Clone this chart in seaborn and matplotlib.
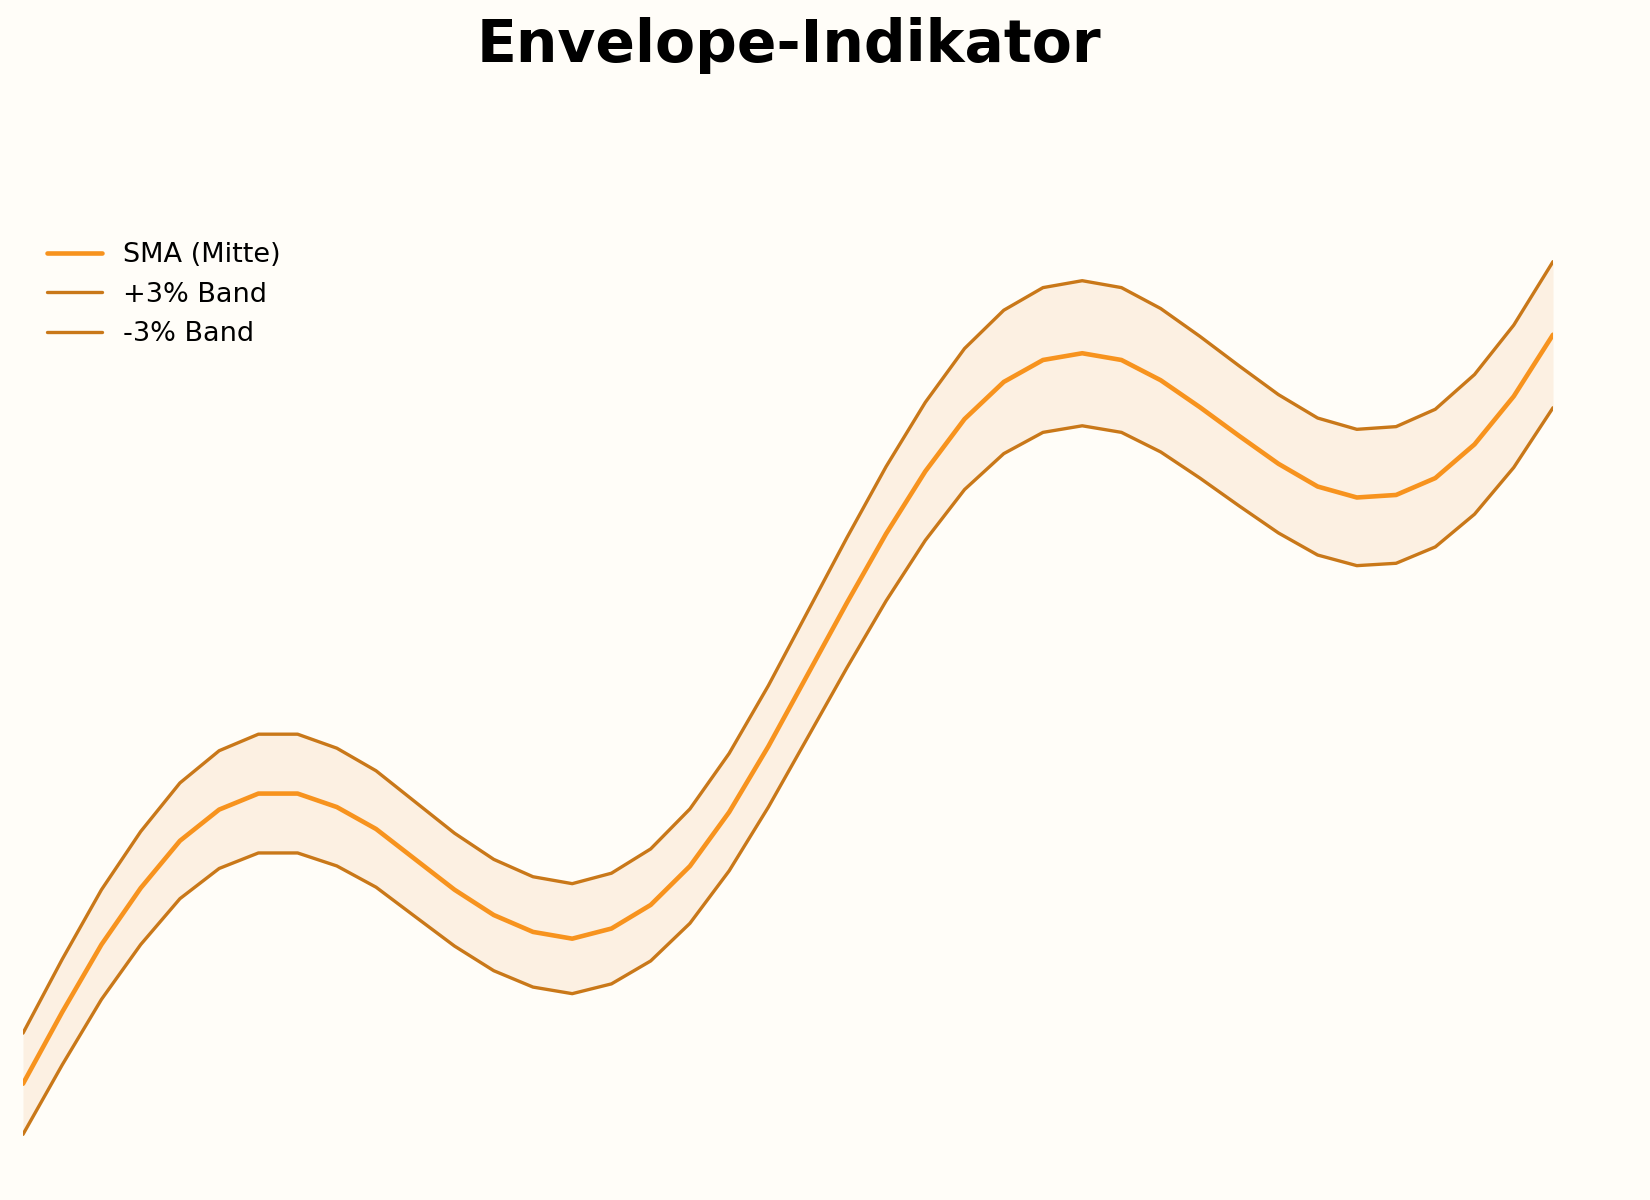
import numpy as np
import pandas as pd
import matplotlib
matplotlib.use("Agg")
import matplotlib.pyplot as plt
import seaborn as sns

# ---- data ----
tage = list(range(40))
sma = [100.0, 104.25, 108.25, 111.6, 114.4, 116.25, 117.2, 117.2, 116.4, 115.1,
       113.3, 111.5, 110.0, 109.0, 108.6, 109.2, 110.6, 112.9, 116.1, 120.0,
       124.25, 128.5, 132.6, 136.3, 139.4, 141.6, 142.9, 143.3, 142.9, 141.7,
       140.1, 138.4, 136.75, 135.4, 134.75, 134.9, 135.9, 137.9, 140.75, 144.4]
oberes_band = [103.0, 107.38, 111.5, 114.95, 117.83, 119.74, 120.72, 120.72, 119.89, 118.55,
               116.7, 114.85, 113.3, 112.27, 111.86, 112.48, 113.92, 116.29, 119.58, 123.6,
               127.98, 132.36, 136.58, 140.39, 143.58, 145.85, 147.19, 147.6, 147.19, 145.95,
               144.3, 142.55, 140.85, 139.46, 138.79, 138.95, 139.98, 142.04, 144.97, 148.73]
unteres_band = [97.0, 101.12, 105.0, 108.25, 110.97, 112.76, 113.68, 113.68, 112.91, 111.65,
                109.9, 108.16, 106.7, 105.73, 105.34, 105.92, 107.28, 109.51, 112.62, 116.4,
                120.52, 124.65, 128.62, 132.21, 135.22, 137.35, 138.61, 139.0, 138.61, 137.45,
                135.9, 134.25, 132.65, 131.34, 130.71, 130.85, 131.82, 133.76, 136.53, 140.07]
labels = ["SMA (Mitte)", "+3% Band", "-3% Band"]
titel = "Envelope-Indikator"

df = pd.DataFrame({"Tag": tage, "SMA": sma, "Oben": oberes_band, "Unten": unteres_band})

bg = "#FFFDF8"
c_mid = "#F7931E"
c_band = "#C97819"
c_fill = "#FCF0E2"

sns.set_style("white")
plt.rcParams["font.family"] = ["DejaVu Sans"]
plt.rcParams["text.color"] = "black"

fig = plt.figure(figsize=(11, 8), dpi=150, facecolor=bg)
ax = fig.add_axes([23 / 1650, 22 / 1200, (1553 - 23) / 1650, (1178 - 218) / 1200])
ax.set_facecolor(bg)

ax.fill_between(df["Tag"], df["Unten"], df["Oben"], color=c_fill, linewidth=0, zorder=1)
sns.lineplot(data=df, x="Tag", y="SMA", ax=ax, color=c_mid, linewidth=2.2, label=labels[0], zorder=3)
sns.lineplot(data=df, x="Tag", y="Oben", ax=ax, color=c_band, linewidth=1.6, label=labels[1], zorder=2)
sns.lineplot(data=df, x="Tag", y="Unten", ax=ax, color=c_band, linewidth=1.6, label=labels[2], zorder=2)

ax.margins(x=0, y=0.05)
ax.set_axis_off()
leg = ax.legend(loc="upper left", frameon=False, fontsize=13)
for t in leg.get_texts():
    t.set_color("black")

fig.text(789 / 1650, 1 - 62 / 1200, titel, ha="center", va="baseline",
         fontsize=28, fontweight="bold", color="black")

fig.savefig("out.png", dpi=150, facecolor=bg)
